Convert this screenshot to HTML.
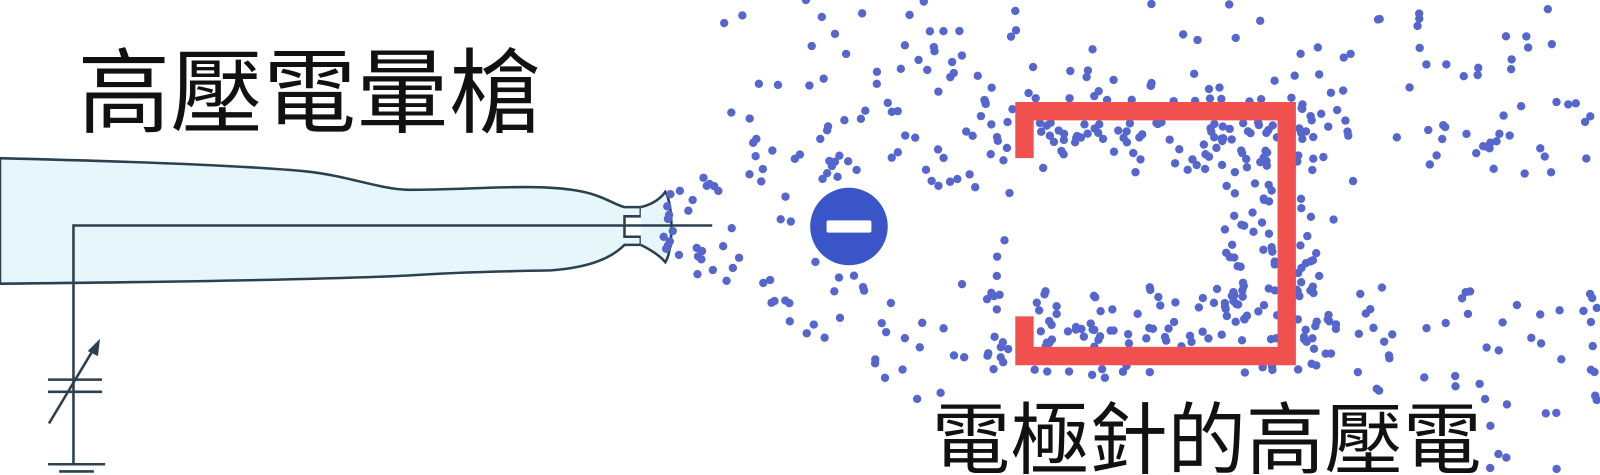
<!DOCTYPE html>
<html><head><meta charset="utf-8"><style>
html,body{margin:0;padding:0;background:#fff;width:1600px;height:475px;overflow:hidden}
svg{position:absolute;left:0;top:0}
.t{font-family:"Liberation Sans","Noto Sans CJK TC",sans-serif;fill:#111}
</style></head><body>
<svg width="1600" height="475" viewBox="0 0 1600 475">
<g transform="scale(1.0204)">
<path d="M0,155 C120,158 240,162 300,168 C340,172 370,185 400,186 C460,186 520,180 560,186 C590,190 600,200 612,203 L628,203 L628,212 L612,212 L612,232 L628,232 L628,240 L612,240 C600,252 580,262 540,265 C480,266 430,268 400,270 C340,273 200,276 0,278 Z" fill="#e6f6fb" stroke="#2b4152" stroke-width="2.5"/>
<path d="M628,203 C640,200 648,194 652,188 C660,200 660,245 652,257 C648,252 640,246 628,240" fill="#e6f6fb" stroke="#2b4152" stroke-width="2.5"/>
<polyline points="72,455 72,221 698,221" fill="none" stroke="#2b4152" stroke-width="2.5"/>
<g stroke="#2b4152" stroke-width="2.5" fill="none">
<line x1="47" y1="372" x2="100" y2="372"/><line x1="47" y1="384" x2="100" y2="384"/>
<line x1="48" y1="415" x2="93" y2="340"/>
<line x1="47" y1="455" x2="103" y2="455"/><line x1="58" y1="462" x2="92" y2="462"/><line x1="64" y1="469" x2="85" y2="469"/>
</g>
<polygon points="98,332 86,344 96,349" fill="#2b4152"/>
<g id="dots" fill="#5566cc"></g>
<path d="M995,155 L995,100 L1270,100 L1270,358 L995,358 L995,310 L1013,310 L1013,340 L1252,340 L1252,118 L1013,118 L1013,155 Z" fill="#f0504e"/>
<circle cx="832" cy="222" r="38" fill="#3a55c8"/>
<rect x="810" y="216" width="44" height="12" rx="2" fill="#fff"/>
<text class="t" x="76" y="123" font-size="91">高壓電暈槍</text>
<text class="t" x="913" y="458" font-size="77">電極針的高壓電</text>
</g>
</svg>
<script>
var seed=11;function r(){seed=(seed*16807)%2147483647;return (seed-1)/2147483646;}
var g=document.getElementById('dots'),h='';
function add(x,y){if(x<0||x>1565||y<0||y>462)return;
 if(x>995&&x<1270&&y>100&&y<358&&!(x>1013&&x<1252&&y>118&&y<340))return;
 if(Math.hypot(x-832,y-222)<44)return;
 if(x>905&&x<1455&&y>385)return;
 h+='<circle cx="'+x.toFixed(1)+'" cy="'+y.toFixed(1)+'" r="4.1"/>';}
var i,x,y,t;
for(i=0;i<150;i++){t=r();x=650+t*340;var w=30+t*190;y=222+(r()*2-1)*w;if(Math.abs(y-222)<12+t*30&&r()<0.8)continue;add(x,y);}
for(i=0;i<150;i++){x=960+r()*330;y=75+r()*95;if(r()<0.5)y=95+r()*45;add(x,y);}
for(i=0;i<150;i++){x=960+r()*330;y=280+r()*95;if(r()<0.5)y=320+r()*45;add(x,y);}
for(i=0;i<50;i++){x=1200+r()*55;y=150+r()*170;add(x,y);}
for(i=0;i<35;i++){x=1270+r()*40;y=130+r()*220;add(x,y);}
for(i=0;i<110;i++){x=700+r()*860;y=r()*150;add(x,y);}
for(i=0;i<75;i++){x=1300+r()*265;y=280+r()*185;add(x,y);}
for(i=0;i<20;i++){x=1310+r()*250;y=100+r()*80;add(x,y);}
g.innerHTML=h;
</script>
</body></html>
